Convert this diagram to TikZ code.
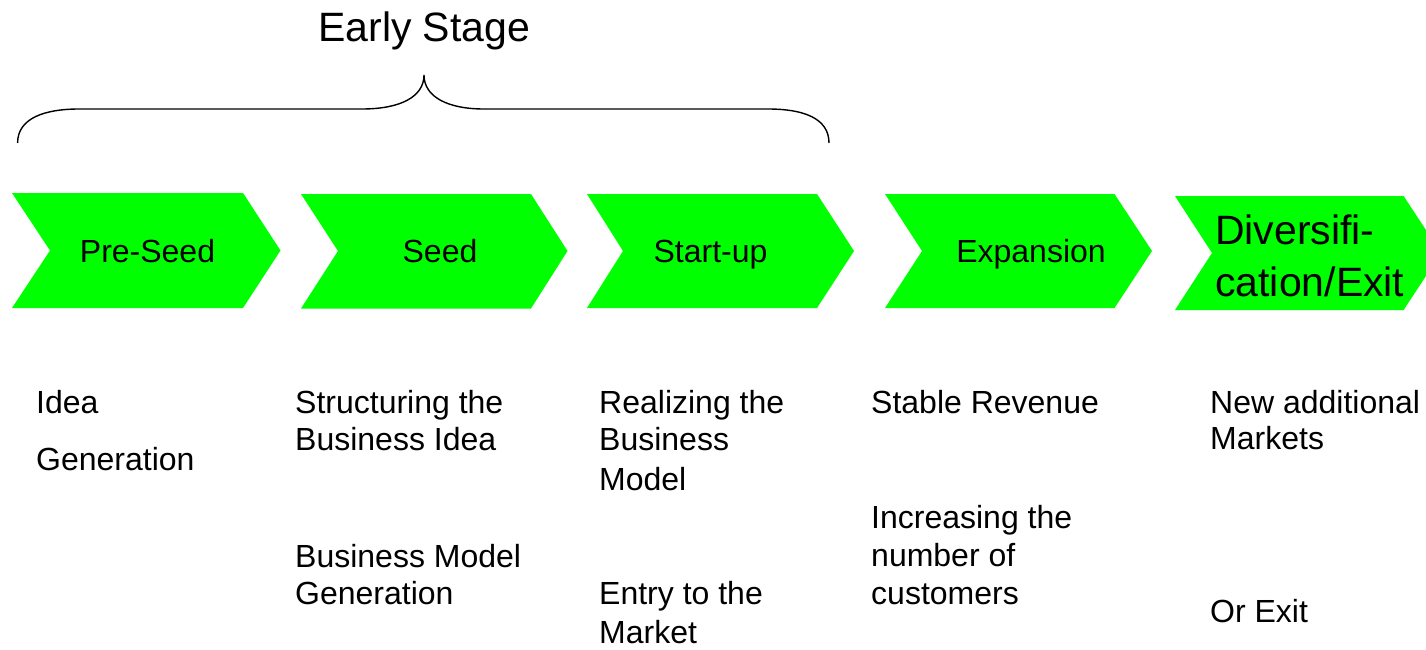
\documentclass[tikz,border=0pt]{standalone}
\usepackage{fontspec}
\setmainfont{Liberation Sans}
\definecolor{chevgreen}{HTML}{00FF00}
\tikzset{
  chev/.style={fill=chevgreen, draw=none},
  body/.style={anchor=base west, inner sep=0pt, font=\fontsize{32}{36}\selectfont},
  clabel/.style={anchor=base, inner sep=0pt, font=\fontsize{32}{36}\selectfont},
  big/.style={anchor=base west, inner sep=0pt, font=\fontsize{41}{48}\selectfont},
  brace/.style={draw=black, line width=1.4pt}
}
\begin{document}
\begin{tikzpicture}[x=1pt,y=-1pt]
\useasboundingbox (0,0) rectangle (1426,650);
\begin{scope}
\clip (0,0) rectangle (1426,650);
% chevrons
\fill[chev] (12,193) -- (243,193) -- (280.5,250.5) -- (243,308) -- (12,308) -- (50,250.5) -- cycle;
\fill[chev] (301,194) -- (531,194) -- (567.5,251) -- (531,308.5) -- (301,308.5) -- (338,251) -- cycle;
\fill[chev] (587,194) -- (817,194) -- (854,251) -- (817,308) -- (587,308) -- (623,251) -- cycle;
\fill[chev] (885,194) -- (1114.5,194) -- (1152,251) -- (1114.5,308) -- (885,308) -- (922,251) -- cycle;
\fill[chev] (1175,196) -- (1403.6,196) -- (1441,253) -- (1403.6,310) -- (1175,310) -- (1212,253) -- cycle;
\end{scope}
% brace
\coordinate (bl) at (17.6,143);
\coordinate (bt) at (424,75);
\coordinate (br) at (829,143);
\draw[brace] (bl) .. controls (17.6,118) and (45,109) .. (79,109) -- (362,109)
  .. controls (400,109) and (424,97) .. (bt)
  .. controls (424,97) and (448,109) .. (484,109) -- (768,109)
  .. controls (803,109) and (829,118) .. (br);
\node[big] (early) at (318,41.5) {Early Stage};
% chevron labels
\node[clabel] (preseed) at (147.5,262) {Pre-Seed};
\node[clabel] (seed) at (440,262) {Seed};
\node[clabel] (startup) at (710.5,262) {Start-up};
\node[clabel] (expansion) at (1031,262) {Expansion};
\node[big] (div1) at (1215,244) {Diversifi-};
\node[big] (div2) at (1215,296) {cation/Exit};
% body text
\node[body] (t1a) at (36,413) {Idea};
\node[body] (t1b) at (36,470) {Generation};
\node[body] (t2a) at (295,413) {Structuring the};
\node[body] (t2b) at (295,450) {Business Idea};
\node[body] (t2c) at (295,567) {Business Model};
\node[body] (t2d) at (295,604) {Generation};
\node[body] (t3a) at (599,413) {Realizing the};
\node[body] (t3b) at (599,450) {Business};
\node[body] (t3c) at (599,490) {Model};
\node[body] (t3d) at (599,604) {Entry to the};
\node[body] (t3e) at (599,643) {Market};
\node[body] (t4a) at (871,413) {Stable Revenue};
\node[body] (t4b) at (871,528) {Increasing the};
\node[body] (t4c) at (871,566) {number of};
\node[body] (t4d) at (871,604) {customers};
\node[body] (t5a) at (1210,413) {New additional};
\node[body] (t5b) at (1210,449) {Markets};
\node[body] (t5c) at (1210,622) {Or Exit};
\end{tikzpicture}
\end{document}
